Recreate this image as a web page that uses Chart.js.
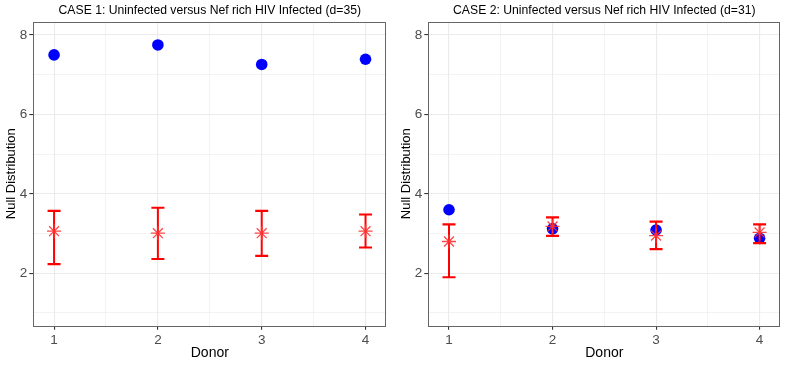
<!DOCTYPE html>
<html><head><meta charset="utf-8">
<script src="https://cdn.jsdelivr.net/npm/chart.js@4.4.1/dist/chart.umd.min.js"></script>
<style>
body{margin:0;background:#fff;overflow:hidden;}
.p{position:absolute;top:0;height:365px;}
#a{left:0;width:395px;} #b{left:395px;width:394px;}
</style>
</head><body>
<div class="p" id="a"><canvas id="c1" width="395" height="365"></canvas></div>
<div class="p" id="b"><canvas id="c2" width="394" height="365"></canvas></div>
<script>
const donors = [1, 2, 3, 4];
const xTickValues = [1, 1.5, 2, 2.5, 3, 3.5, 4];
const yTickValues = [1, 2, 3, 4, 5, 6, 7, 8];
const titles = [
  'CASE 1: Uninfected versus Nef rich HIV Infected (d=35)',
  'CASE 2: Uninfected versus Nef rich HIV Infected (d=31)'
];
const yTitle = 'Null Distribution';
const xTitle = 'Donor';

const case1Observed = [7.50, 7.75, 7.26, 7.39];
const case1NullMean = [3.06, 3.01, 3.01, 3.06];
const case1NullLow  = [2.23, 2.36, 2.44, 2.65];
const case1NullHigh = [3.57, 3.65, 3.57, 3.48];

const case2Observed = [3.60, 3.12, 3.09, 2.88];
const case2NullMean = [2.80, 3.18, 2.95, 3.03];
const case2NullLow  = [1.90, 2.94, 2.61, 2.76];
const case2NullHigh = [3.23, 3.41, 3.30, 3.23];

const borderPlugin = {
  id: 'panelBorder',
  afterDatasetsDraw(chart) {
    const a = chart.chartArea, ctx = chart.ctx;
    ctx.save();
    ctx.strokeStyle = '#666666';
    ctx.lineWidth = 1;
    ctx.strokeRect(Math.round(a.left) + 0.5, Math.round(a.top) + 0.5,
                   Math.round(a.right - a.left) - 1, Math.round(a.bottom - a.top));
    ctx.restore();
  }
};

function makeChart(id, title, obs, mean, lo, hi, rightPad) {
  const errData = [];
  donors.forEach((d, i) => {
    errData.push({x: d, y: lo[i]}, {x: d, y: hi[i]}, {x: d, y: null});
  });
  const isInt = v => Math.abs(v - Math.round(v)) < 1e-6;
  new Chart(document.getElementById(id), {
    type: 'scatter',
    data: {
      datasets: [
        {
          label: 'null mean',
          data: donors.map((d, i) => ({x: d, y: mean[i]})),
          pointStyle: 'star', pointRadius: 7, pointBorderWidth: 1.3,
          borderColor: 'rgba(255,50,50,0.9)', backgroundColor: 'rgba(255,50,50,0.9)'
        },
        {
          type: 'line', label: 'null range', data: errData,
          showLine: true, spanGaps: false,
          borderColor: '#ff0000', borderWidth: 2,
          pointStyle: 'line', pointRadius: 6.5, pointBorderWidth: 2.2,
          pointBorderColor: '#ff0000', pointBackgroundColor: '#ff0000'
        },
        {
          label: 'observed',
          data: donors.map((d, i) => ({x: d, y: obs[i]})),
          pointStyle: 'circle', pointRadius: 5.8, pointBorderWidth: 0,
          backgroundColor: '#0000ff', borderColor: '#0000ff'
        }
      ]
    },
    options: {
      responsive: false, animation: false,
      layout: {padding: {left: 0, right: rightPad, top: 0, bottom: 0}},
      plugins: {
        legend: {display: false}, tooltip: {enabled: false},
        title: {display: true, text: title, color: '#000', fullSize: false,
                font: {family: 'Liberation Sans', size: 12.2, weight: 'normal'},
                padding: {top: 3, bottom: 4.1}}
      },
      scales: {
        x: {
          type: 'linear', min: 0.8, max: 4.2,
          afterBuildTicks: s => { s.ticks = xTickValues.map(v => ({value: v})); },
          afterFit: s => { s.height = 39.3; },
          ticks: {
            autoSkip: false, maxRotation: 0, padding: 2, color: '#4d4d4d',
            font: {family: 'Liberation Sans', size: 13.5},
            callback: v => isInt(v) ? String(v) : ''
          },
          grid: {
            color: '#ebebeb',
            lineWidth: c => isInt(c.tick.value) ? 1.1 : 0.6,
            tickColor: c => isInt(c.tick.value) ? '#333333' : 'rgba(0,0,0,0)',
            tickLength: 4
          },
          border: {display: false},
          title: {display: true, text: xTitle, color: '#000',
                  font: {family: 'Liberation Sans', size: 14}, padding: {top: 0, bottom: 3.5}}
        },
        y: {
          type: 'linear', min: 0.68, max: 8.335,
          afterBuildTicks: s => { s.ticks = yTickValues.map(v => ({value: v})); },
          afterFit: s => { s.width = 33.3; },
          ticks: {
            padding: 2, color: '#4d4d4d',
            font: {family: 'Liberation Sans', size: 13.5},
            callback: v => (v % 2 === 0) ? String(v) : ''
          },
          grid: {
            color: '#ebebeb',
            lineWidth: c => (c.tick.value % 2 === 0) ? 1.1 : 0.6,
            tickColor: c => (c.tick.value % 2 === 0) ? '#333333' : 'rgba(0,0,0,0)',
            tickLength: 4
          },
          border: {display: false},
          title: {display: true, text: yTitle, color: '#000',
                  font: {family: 'Liberation Sans', size: 13}, padding: {top: 4, bottom: 0}}
        }
      }
    },
    plugins: [borderPlugin]
  });
}

makeChart('c1', titles[0], case1Observed, case1NullMean, case1NullLow, case1NullHigh, 5.7);
makeChart('c2', titles[1], case2Observed, case2NullMean, case2NullLow, case2NullHigh, 4.7);
</script>
</body></html>
